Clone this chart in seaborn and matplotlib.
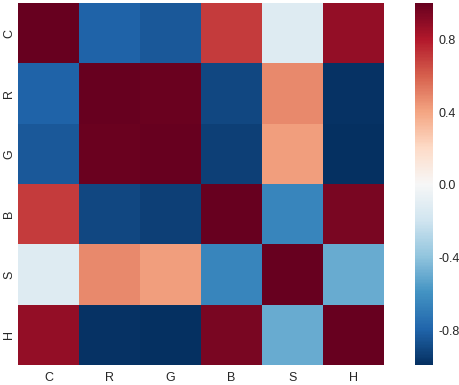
import numpy as np
import pandas as pd
import matplotlib
matplotlib.use("Agg")
import matplotlib.pyplot as plt
import seaborn as sns

labels = ["C", "R", "G", "B", "S", "H"]
row_C = [1.00, -0.80, -0.84, 0.70, -0.12, 0.88]
row_R = [-0.80, 1.00, 0.99, -0.90, 0.48, -0.98]
row_G = [-0.84, 0.99, 1.00, -0.93, 0.42, -0.99]
row_B = [0.70, -0.90, -0.93, 1.00, -0.65, 0.95]
row_S = [-0.12, 0.48, 0.42, -0.65, 1.00, -0.50]
row_H = [0.88, -0.98, -0.99, 0.95, -0.50, 1.00]

corr = pd.DataFrame([row_C, row_R, row_G, row_B, row_S, row_H],
                    index=labels, columns=labels)

sns.set_style("white")
plt.rcParams['font.family'] = ['Liberation Sans', 'DejaVu Sans']

fig = plt.figure(figsize=(4.59, 3.85), dpi=100)
ax = fig.add_axes([18/459, 1 - 365/385, (384-18)/459, (365-3)/385])
cax = fig.add_axes([415/459, 1 - 365/385, 18/459, (365-3)/385])

sns.heatmap(corr, ax=ax, cbar_ax=cax, cmap="RdBu_r", vmin=-0.99, vmax=1.0,
            cbar_kws={"ticks": [-0.8, -0.4, 0.0, 0.4, 0.8]})
ax.tick_params(axis='x', length=0, labelsize=9, pad=5)
ax.tick_params(axis='y', length=0, labelsize=9, pad=2)
ax.set_yticklabels(labels, rotation=90, va='center')
ax.set_xticklabels(labels, rotation=0)
cax.tick_params(length=0, labelsize=9, pad=4)
cax.set_yticklabels(["-0.8", "-0.4", "0.0", "0.4", "0.8"])
for s in cax.spines.values():
    s.set_visible(False)

fig.savefig("out.png", dpi=100)
